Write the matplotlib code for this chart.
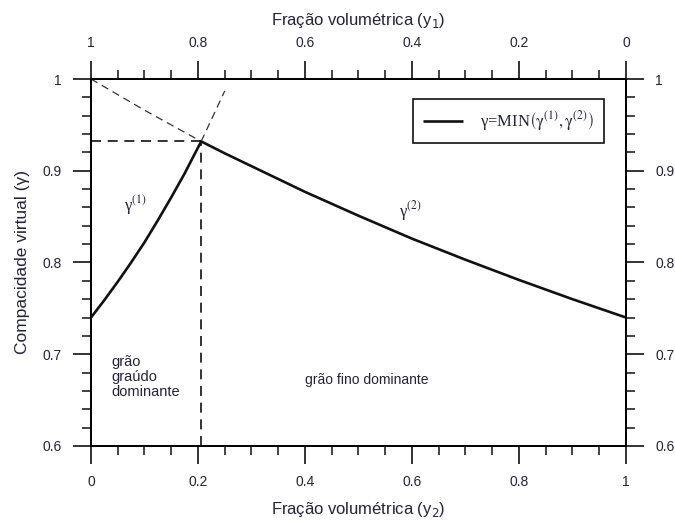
import matplotlib
matplotlib.use("Agg")
import matplotlib.pyplot as plt
from matplotlib.ticker import MultipleLocator

plt.rcParams['font.family'] = ['Liberation Sans', 'DejaVu Sans']

# compacidade virtual, mistura binaria (y2 = fracao do grao fino)
y2_g1 = [0.0, 0.025, 0.05, 0.075, 0.10, 0.125, 0.15, 0.175, 0.19, 0.206]
g1 = [0.740, 0.759, 0.779, 0.800, 0.822, 0.846, 0.871, 0.897, 0.914, 0.932]

y2_g2 = [0.206, 0.25, 0.3, 0.4, 0.5, 0.6, 0.7, 0.8, 0.9, 1.0]
g2 = [0.932, 0.919, 0.905, 0.877, 0.851, 0.826, 0.803, 0.781, 0.760, 0.740]

# prolongamentos tracejados das duas curvas
y2_g2_ext = [0.0, 0.1, 0.206]
g2_ext = [1.0, 0.966, 0.932]
y2_g1_ext = [0.206, 0.25]
g1_ext = [0.932, 0.987]

peak_x = 0.206
peak_y = 0.932

x_ticks = [0, 0.2, 0.4, 0.6, 0.8, 1]
x_ticklabels = ['0', '0.2', '0.4', '0.6', '0.8', '1']
top_ticklabels = ['1', '0.8', '0.6', '0.4', '0.2', '0']
y_ticks = [0.6, 0.7, 0.8, 0.9, 1.0]
y_ticklabels = ['0.6', '0.7', '0.8', '0.9', '1']

txt_col = '#23233a'

fig = plt.figure(figsize=(6.75, 5.24), dpi=100)
ax = fig.add_axes([0.1348, 0.1489, 0.7926, 0.7003])

ax.plot(y2_g1, g1, color='#111111', lw=1.9, solid_capstyle='butt',
        label=u'γ=MIN$\\left(\\mathrm{γ}^{(1)},\\mathrm{γ}^{(2)}\\right)$')
ax.plot(y2_g2, g2, color='#111111', lw=1.9)
ax.plot(y2_g2_ext, g2_ext, color='#333333', lw=0.9, dashes=(6, 4))
ax.plot(y2_g1_ext, g1_ext, color='#333333', lw=0.9, dashes=(6, 4))
ax.plot([0, peak_x], [peak_y, peak_y], color='#111111', lw=1.2, dashes=(6, 4))
ax.plot([peak_x, peak_x], [0.6, peak_y], color='#111111', lw=1.2, dashes=(6, 4))

ax.set_xlim(0, 1)
ax.set_ylim(0.6, 1.0)

for s in ax.spines.values():
    s.set_linewidth(1.3)
    s.set_color('#111111')

ax.set_xticks(x_ticks)
ax.set_xticklabels(x_ticklabels)
ax.set_yticks(y_ticks)
ax.set_yticklabels(y_ticklabels)
ax.xaxis.set_minor_locator(MultipleLocator(0.05))
ax.yaxis.set_minor_locator(MultipleLocator(0.02))
ax.tick_params(which='major', direction='out', length=13, width=1.2,
               color='#111111', labelsize=10, labelcolor=txt_col, pad=8,
               left=True, right=True, labelright=True)
ax.tick_params(which='minor', direction='out', length=6.5, width=1.1,
               color='#111111', left=True, right=True)

ax.set_xlabel(u'Fração volumétrica (y$_{2}$)', fontsize=12, color=txt_col,
              labelpad=8, math_fontfamily='dejavusans')
ax.set_ylabel(u'Compacidade virtual (γ)', fontsize=12.5, color=txt_col,
              labelpad=9)

top = ax.twiny()
top.set_xlim(1, 0)
top.set_xticks(x_ticks)
top.set_xticklabels(top_ticklabels[::-1])
top.xaxis.set_minor_locator(MultipleLocator(0.05))
top.tick_params(which='major', direction='out', length=13, width=1.2,
                color='#111111', labelsize=10, labelcolor=txt_col, pad=8)
top.tick_params(which='minor', direction='out', length=6.5, width=1.1,
                color='#111111')
top.set_xlabel(u'Fração volumétrica (y$_{1}$)', fontsize=12, color=txt_col,
               labelpad=8, math_fontfamily='dejavusans')
for s in top.spines.values():
    s.set_linewidth(1.3)

ax.text(0.082, 0.862, u'γ$^{(1)}$', fontsize=12, color=txt_col,
        ha='center', va='center', family='Liberation Serif',
        math_fontfamily='stix')
ax.text(0.596, 0.856, u'γ$^{(2)}$', fontsize=12, color=txt_col,
        ha='center', va='center', family='Liberation Serif',
        math_fontfamily='stix')
ax.text(0.039, 0.675, u'grão\ngraúdo\ndominante', fontsize=10.5,
        color=txt_col, ha='left', va='center', linespacing=1.1)
ax.text(0.516, 0.672, u'grão fino dominante', fontsize=10,
        color=txt_col, ha='center', va='center')

leg = ax.legend(loc='upper right', bbox_to_anchor=(0.959, 0.9455),
                borderaxespad=0, fancybox=False, framealpha=1,
                edgecolor='#111111', handlelength=2.4, handletextpad=1.0,
                borderpad=0.6,
                prop={'size': 12, 'math_fontfamily': 'stix',
                      'family': 'Liberation Serif'})
leg.get_frame().set_linewidth(1.2)
for t in leg.get_texts():
    t.set_color(txt_col)

fig.savefig('out.png', dpi=100)
